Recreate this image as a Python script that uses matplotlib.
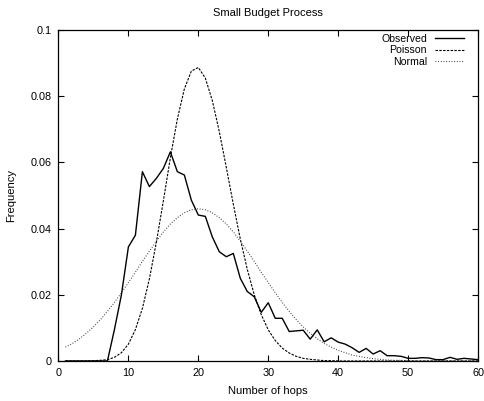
import matplotlib
matplotlib.use("Agg")
import matplotlib.pyplot as plt
from matplotlib.ticker import FuncFormatter

plt.rcParams['font.family'] = ['Liberation Sans', 'DejaVu Sans']

hops = list(range(1, 61))

observed = [0, 0, 0, 0, 0, 0, 0, 0.0095, 0.0200, 0.0345,
            0.0380, 0.0572, 0.0527, 0.0552, 0.0582, 0.0632, 0.0572, 0.0562, 0.0486, 0.0441,
            0.0437, 0.0375, 0.0330, 0.0315, 0.0325, 0.0250, 0.0210, 0.0194, 0.0147, 0.0176,
            0.0129, 0.0129, 0.0089, 0.0091, 0.0093, 0.0066, 0.0094, 0.0058, 0.0070, 0.0057,
            0.0051, 0.0040, 0.0026, 0.0038, 0.0021, 0.0031, 0.0016, 0.0016, 0.0014, 0.0008,
            0.0008, 0.0010, 0.0009, 0.0004, 0.0004, 0.0011, 0.0005, 0.0008, 0.0006, 0.0004]

poisson = [0, 0, 0, 0, 0.0001, 0.0002, 0.0004, 0.0011, 0.0025, 0.0051,
           0.0095, 0.0159, 0.0248, 0.0359, 0.0484, 0.0614, 0.0731, 0.0822, 0.0876, 0.0887,
           0.0855, 0.0787, 0.0693, 0.0585, 0.0474, 0.0369, 0.0277, 0.0200, 0.0140, 0.0094,
           0.0062, 0.0039, 0.0024, 0.0014, 0.0008, 0.0005, 0.0003, 0.0001, 0.0001, 0,
           0, 0, 0, 0, 0, 0, 0, 0, 0, 0,
           0, 0, 0, 0, 0, 0, 0, 0, 0, 0]

normal = [0.0042, 0.0053, 0.0067, 0.0084, 0.0103, 0.0125, 0.0150, 0.0177, 0.0206, 0.0237,
          0.0268, 0.0301, 0.0332, 0.0362, 0.0390, 0.0414, 0.0433, 0.0448, 0.0457, 0.0460,
          0.0457, 0.0448, 0.0433, 0.0414, 0.0390, 0.0362, 0.0332, 0.0301, 0.0268, 0.0237,
          0.0206, 0.0177, 0.0150, 0.0125, 0.0103, 0.0084, 0.0067, 0.0053, 0.0042, 0.0032,
          0.0025, 0.0018, 0.0014, 0.0010, 0.0007, 0.0005, 0.0003, 0.0002, 0.0002, 0.0001,
          0, 0, 0, 0, 0, 0, 0, 0, 0, 0]

fig = plt.figure(figsize=(4.85, 4.01), dpi=100)
ax = fig.add_axes([0.1206, 0.0998, 0.9856 - 0.1206, 0.925 - 0.0998])

ax.plot(hops, observed, color='black', lw=1.0, label='Observed')
ax.plot(hops, poisson, color='black', lw=0.8, linestyle=(0, (2.2, 1.2)), label='Poisson')
ax.plot(hops, normal, color='#333333', lw=0.8, linestyle=(0, (0.8, 1.6)), label='Normal')

ax.set_xlim(0, 60)
ax.set_ylim(0, 0.1)
ax.set_xticks(range(0, 61, 10))
ax.set_yticks([0, 0.02, 0.04, 0.06, 0.08, 0.1])
ax.yaxis.set_major_formatter(FuncFormatter(lambda v, p: f"{v:g}"))
ax.tick_params(direction='in', length=4, width=0.8, top=True, right=True,
               labelsize=7.8, pad=5)
for s in ax.spines.values():
    s.set_linewidth(0.9)

ax.set_title('Small Budget Process', fontsize=8, pad=10)
ax.set_xlabel('Number of hops', fontsize=8, labelpad=6)
ax.set_ylabel('Frequency', fontsize=8, labelpad=10)

leg = ax.legend(loc='upper right', bbox_to_anchor=(0.981, 1.008), frameon=False,
                markerfirst=False, fontsize=7.6,
                handlelength=2.7, handletextpad=0.8, labelspacing=0.15,
                borderaxespad=0.2)

fig.savefig('out.png', dpi=100)
